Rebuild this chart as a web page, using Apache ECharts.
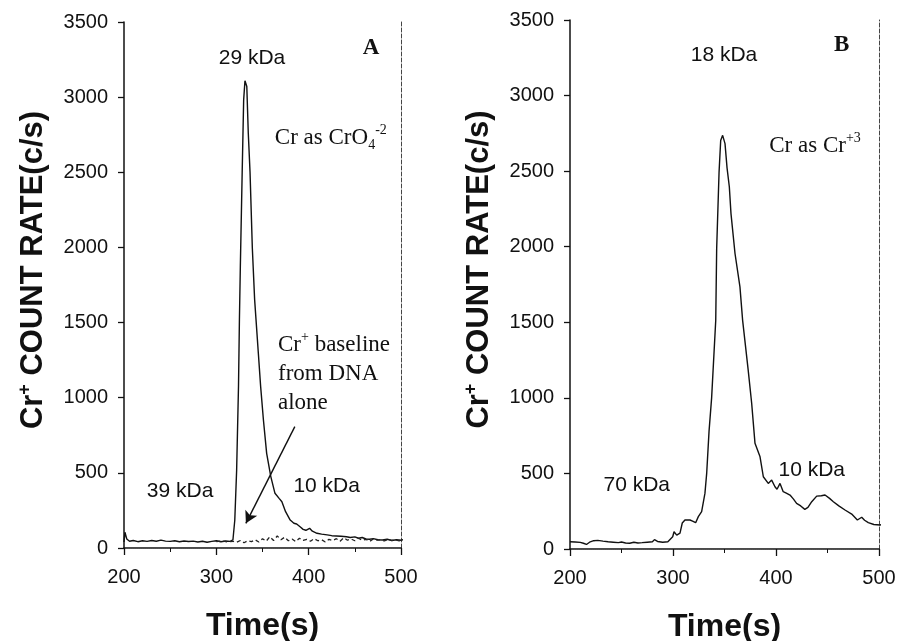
<!DOCTYPE html>
<html>
<head>
<meta charset="utf-8">
<script src="https://cdn.jsdelivr.net/npm/echarts@6/dist/echarts.min.js"></script>
<style>
	html, body { margin: 0; padding: 0; background: #fff; }
	#chart { width: 898px; height: 641px; }
</style>
</head>
<body>
<div id="chart"></div>
<script type="text/javascript">
	// 面板 A：Cr as CrO4-2
	var timeA = [200, 201, 203, 206, 210, 215, 220, 225, 230, 235, 240, 245, 250, 255, 260, 265, 270, 275, 280, 285, 290, 295, 300, 305, 310, 315, 318,
		320, 322, 324, 325, 326, 328, 329.6, 331, 332, 333, 334.6, 336.5, 339, 341.5, 343, 345.5, 348, 351, 354.5, 359, 363.5, 368, 371, 375, 380,
		384, 387, 391, 394, 397, 401, 404, 409, 414, 420, 425, 430, 435, 441, 445, 450, 454, 458, 462, 466, 470, 475, 480, 485, 490, 495, 500, 505];
	var countA = [40, 105, 60, 45, 50, 42, 48, 44, 50, 45, 52, 46, 44, 48, 42, 47, 43, 46, 40, 45, 38, 44, 48, 42, 47, 44, 55,
		186, 519, 1074, 1518, 1873, 2501, 2982, 3109, 3100, 3071, 2761, 2501, 1995, 1651, 1518, 1296, 1074, 852, 630, 475, 364, 330, 308, 242, 186,
		165, 160, 140, 124, 118, 131, 112, 98, 92, 87, 82, 80, 78, 75, 70, 74, 65, 70, 60, 58, 62, 55, 53, 58, 50, 55, 52, 60];

	// DNA 单独的基线（虚线）
	var timeDna = [300, 306, 312, 318, 322, 326, 330, 334, 338, 342, 346, 350, 354, 358, 362, 366, 370, 374, 378, 382, 386, 390, 394, 398, 402,
		406, 410, 414, 418, 422, 426, 430, 434, 438, 442, 446, 450, 454, 458, 462, 466, 470, 474, 478, 482, 486, 490, 494, 498, 502, 505];
	var countDna = [42, 48, 40, 45, 38, 50, 35, 48, 42, 55, 40, 62, 45, 75, 50, 80, 55, 72, 48, 60, 42, 65, 50, 58, 45,
		62, 48, 55, 40, 58, 50, 62, 45, 68, 52, 60, 48, 65, 50, 58, 44, 60, 52, 55, 47, 58, 50, 54, 48, 56, 60];

	// 面板 B：Cr as Cr+3
	var timeB = [200, 205, 210, 213, 216, 219, 223, 227, 232, 237, 242, 247, 250, 254, 258, 262, 266, 270, 275, 280, 282, 285, 290, 295,
		299.7, 301, 303.6, 306.8, 309, 311.6, 316.5, 319, 322, 324.6, 327.8, 331, 332.7, 335, 337.5, 341.5, 342.4, 344.7, 346.3, 348.2,
		350.5, 352.5, 354.7, 356.3, 360.2, 365, 367.6, 373, 376.4, 379.6, 384.5, 387.7, 392.5, 395.8, 399, 401, 403.9, 407, 410, 413.6,
		417, 420, 424, 428, 431, 434.7, 439.5, 444, 447.6, 452, 455.7, 461, 467, 473.5, 479, 483.2, 486, 489.6, 495, 501, 504];
	var countB = [48, 46, 44, 38, 30, 45, 55, 57, 52, 48, 45, 42, 46, 40, 38, 45, 40, 42, 45, 48, 62, 50, 45, 48,
		81, 114, 92, 105, 172, 192, 192, 185, 174, 214, 247, 368, 500, 780, 1000, 1513, 1988, 2490, 2703, 2737,
		2682, 2520, 2395, 2219, 1955, 1734, 1513, 1183, 963, 699, 610, 478, 434, 456, 412, 395, 434, 379, 370, 357,
		330, 302, 285, 262, 275, 313, 350, 352, 357, 335, 313, 285, 258, 231, 192, 210, 190, 174, 162, 159, 162];

	var xTicks = [200, 300, 400, 500];
	var yTicks = [0, 500, 1000, 1500, 2000, 2500, 3000, 3500];

	var sans = 'Liberation Sans, Arial, sans-serif';
	var serif = 'Liberation Serif, Times New Roman, serif';

	function zipXY(xs, ys) {
		return xs.map(function (x, i) { return [x, ys[i]]; });
	}

	// 不要千分位
	function plain(v) {
		return String(v);
	}

	// 注释文字（放在数据坐标上）
	var richText = {
		k: { fontFamily: sans, fontSize: 21, color: '#111' },
		t: { fontFamily: serif, fontSize: 23, color: '#111', lineHeight: 29 },
		sup: { fontFamily: serif, fontSize: 14, color: '#111', verticalAlign: 'top', lineHeight: 14 },
		sub: { fontFamily: serif, fontSize: 14, color: '#111', verticalAlign: 'bottom', lineHeight: 14 },
		big: { fontFamily: serif, fontSize: 23, fontWeight: 'bold', color: '#111' }
	};

	function note(coord, text, align) {
		return {
			coord: coord,
			label: { show: true, position: 'inside', formatter: text, align: align || 'center', rich: richText }
		};
	}

	function xAxisFor(gridIndex) {
		return [{
			type: 'value', gridIndex: gridIndex, min: 200, max: 500, interval: 100,
			axisLine: { onZero: false, lineStyle: { color: '#111', width: 1.5 } },
			axisTick: { show: true, length: 7, lineStyle: { color: '#111', width: 1.3 } },
			minorTick: { show: true, splitNumber: 2, length: 4, lineStyle: { color: '#111' } },
			splitLine: { show: false },
			axisLabel: { fontFamily: sans, fontSize: 20, color: '#111', margin: 19, customValues: xTicks, formatter: plain },
			name: 'Time(s)', nameLocation: 'middle', nameGap: 62,
			nameTextStyle: { fontFamily: sans, fontSize: 32, fontWeight: 'bold', color: '#111' }
		}, {
			type: 'value', gridIndex: gridIndex, position: 'top', min: 200, max: 500,
			axisLine: { show: true, lineStyle: { color: '#555', width: 1, type: 'dotted' } },
			axisTick: { show: false }, axisLabel: { show: false }, splitLine: { show: false }
		}];
	}

	function yAxisFor(gridIndex) {
		return [{
			type: 'value', gridIndex: gridIndex, min: 0, max: 3500, interval: 500,
			axisLine: { show: true, lineStyle: { color: '#111', width: 1.5 } },
			axisTick: { show: true, length: 6, lineStyle: { color: '#111', width: 1.3 } },
			splitLine: { show: false },
			axisLabel: { fontFamily: sans, fontSize: 20, color: '#111', margin: 16, customValues: yTicks, formatter: plain },
			name: '{b|Cr}{s|+}{b| COUNT RATE(c/s)}', nameLocation: 'middle', nameRotate: 90, nameGap: 74,
			nameTextStyle: {
				padding: [0, 0, 0, 30],
				rich: {
					b: { fontFamily: sans, fontSize: 31, fontWeight: 'bold', color: '#111', lineHeight: 34 },
					s: { fontFamily: sans, fontSize: 18, fontWeight: 'bold', color: '#111', verticalAlign: 'top', lineHeight: 18 }
				}
			}
		}, {
			type: 'value', gridIndex: gridIndex, position: 'right', min: 0, max: 3500,
			axisLine: { show: true, lineStyle: { color: '#444', width: 1, type: 'dashed' } },
			axisTick: { show: false }, axisLabel: { show: false }, splitLine: { show: false }
		}];
	}

	var option = {
		backgroundColor: '#fff',
		animation: false,
		grid: [
			{ left: 124, right: 497, top: 22, bottom: 93, outerBoundsMode: 'none' },
			{ left: 570, right: 19, top: 20, bottom: 92, outerBoundsMode: 'none' }
		],
		xAxis: xAxisFor(0).concat(xAxisFor(1)),
		yAxis: yAxisFor(0).concat(yAxisFor(1)),
		series: [
			{
				name: 'A', type: 'line', xAxisIndex: 0, yAxisIndex: 0, data: zipXY(timeA, countA),
				showSymbol: false, clip: false, lineStyle: { color: '#111', width: 1.4 },
				markPoint: {
					symbol: 'circle', symbolSize: 1, itemStyle: { color: 'rgba(0,0,0,0)' },
					data: [
						note([338.6, 3262], '{k|29 kDa}'),
						note([467.5, 3329], '{big|A}'),
						note([424, 2729], '{t|Cr as CrO}{sub|4}{sup|-2}'),
						note([366.8, 1158], '{t|Cr}{sup|+}{t| baseline}\n{t|from DNA}\n{t|alone}', 'left'),
						note([260.7, 381], '{k|39 kDa}'),
						note([419.5, 408], '{k|10 kDa}')
					]
				},
				markLine: {
					silent: true, symbol: ['none', 'arrow'], symbolSize: [10, 12],
					lineStyle: { color: '#111', width: 1.4, type: 'solid' }, label: { show: false },
					data: [[{ coord: [385, 808] }, { coord: [332, 164] }]]
				}
			},
			{
				name: 'DNA', type: 'line', xAxisIndex: 0, yAxisIndex: 0, data: zipXY(timeDna, countDna),
				showSymbol: false, clip: false, lineStyle: { color: '#222', width: 1.3, type: [4, 3] }
			},
			{
				name: 'B', type: 'line', xAxisIndex: 2, yAxisIndex: 2, data: zipXY(timeB, countB),
				showSymbol: false, clip: false, lineStyle: { color: '#111', width: 1.4 },
				markPoint: {
					symbol: 'circle', symbolSize: 1, itemStyle: { color: 'rgba(0,0,0,0)' },
					data: [
						note([349.5, 3267], '{k|18 kDa}'),
						note([463.8, 3333], '{big|B}'),
						note([437.9, 2665], '{t|Cr as Cr}{sup|+3}'),
						note([264.8, 419], '{k|70 kDa}'),
						note([434.7, 522], '{k|10 kDa}')
					]
				}
			}
		]
	};

	var chart = echarts.init(document.getElementById('chart'));
	chart.setOption(option);
</script>
</body>
</html>
